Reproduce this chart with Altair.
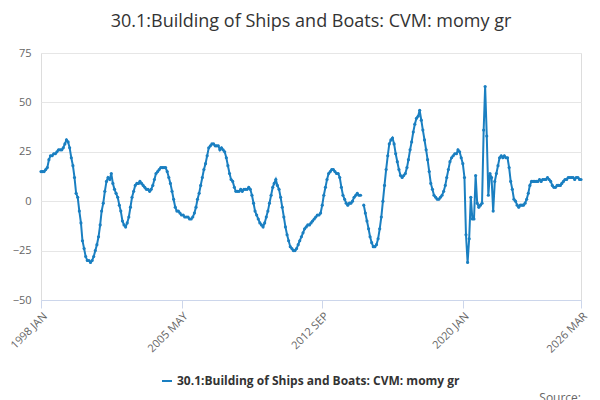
import altair as alt
import pandas as pd

SERIES = "30.1:Building of Ships and Boats: CVM: momy gr"

# monthly values from 1998 Jan
vals_1998_2000 = [15, 15, 15, 16, 17, 21, 23, 23, 24, 24, 25, 26, 26, 26, 27, 29, 31, 30, 27, 22,
                  18, 12, 4, 2, -5, -11, -20, -24, -28, -30, -30]
vals_2000_2005 = [-31, -30, -28, -25, -22, -18, -12, -5, -1, 5, 10, 12, 11, 14, 9, 6, 4, 2, -2, -5,
                  -10, -12, -13, -11, -8, -3, 2, 5, 8, 9, 9, 10, 9, 8, 7, 6, 6, 5, 6, 8,
                  11, 14, 15, 16, 17, 17, 17, 17, 15, 12, 9, 5, 1, -3, -5, -5, -6, -7, -7, -8,
                  -8, -8, -9, -9]
vals_2005_2007 = [-8, -6, -3, 1, 4, 8, 12, 16, 19, 23, 27, 28,
                  29, 29, 28, 28, 28, 26, 27, 26, 25, 22, 18, 14, 11, 10,
                  7, 5, 5, 5, 6, 5, 6, 6, 6, 7, 6]
vals_2009_2014 = [3, -1, -5, -7, -9, -11, -12, -13, -11, -8, -5, -1, 3, 7,
                  9, 11, 8, 6, 2, -3, -8, -13, -17, -20, -23, -24, -25, -25, -24, -22,
                  -20, -18, -16, -14, -13, -12, -12, -11, -10, -9, -8, -7, -7, -6, -2, 3,
                  7, 11, 14, 15, 16, 16, 15, 14, 14, 12, 7, 3, 1, -1, -2, -1, -1, 0, 2,
                  3, 4, 3, 3, None]
vals_2014_2026 = [-2, -6, -10, -14, -18, -21, -23, -23, -22, -19, -14, -8, 0, 8, 16, 23, 29, 31,
                  32, 29, 24, 20, 16, 13, 12, 13, 14, 17, 21, 26, 30, 35, 39, 42, 43, 46, 41,
                  36, 31, 26, 21, 15, 9, 6, 3, 2, 1, 1, 2, 3, 5, 8, 12, 16, 20, 22, 23, 24,
                  24, 26, 25, 22, 19, 12, -17, -31, -19, 2, -9, -9, 13, -1, -3, -2, -1, 36,
                  58, 33, 3, 14, 12, -5, 10, 14, 18, 22, 23, 22, 23, 22, 22, 17, 10, 6, 1,
                  0, -2, -3, -2, -2, -2, -1, 1, 4, 8, 10, 10, 10, 10, 10, 11, 10, 11, 11, 11,
                  12, 11, 10, 8, 7, 7, 8, 8, 8, 9, 10, 11, 11, 12, 12, 12, 12, 11, 12, 12,
                  11, 11]

values = vals_1998_2000 + vals_2000_2005 + vals_2005_2007 + vals_2009_2014 + vals_2014_2026
months = pd.date_range("1998-01-01", periods=len(values), freq="MS")
tick_dates = ["1998-01-01", "2005-05-01", "2012-09-01", "2020-01-01", "2026-03-01"]

df = pd.DataFrame({"month": months, "value": values, "series": SERIES})

blue = "#1a7fc1"
x_ax = alt.Axis(
    values=[pd.Timestamp(d).isoformat() for d in tick_dates],
    labelExpr="upper(timeFormat(datum.value, '%Y %b'))",
    labelAngle=-45, grid=False, title=None, labelColor="#666", labelFontSize=11,
    domainColor="#ccd6eb", tickColor="#ccd6eb", tickSize=8,
)
y_ax = alt.Axis(values=[-50, -25, 0, 25, 50, 75], title=None, domain=False, ticks=False,
                gridColor="#e6e6e6", labelColor="#666", labelFontSize=11, labelPadding=10)

line = (
    alt.Chart(df)
    .mark_line(point=alt.OverlayMarkDef(size=10, filled=True), strokeWidth=2)
    .encode(
        x=alt.X("month:T", axis=x_ax, scale=alt.Scale(domain=[months[0].isoformat(), months[-1].isoformat()])),
        y=alt.Y("value:Q", axis=y_ax, scale=alt.Scale(domain=[-50, 75], nice=False)),
        color=alt.Color("series:N", scale=alt.Scale(range=[blue]),
                        legend=alt.Legend(orient="none", legendX=120, legendY=322, title=None,
                                          labelFontSize=12, labelLimit=0,
                                          labelFontWeight="bold", labelColor="#333",
                                          symbolType="stroke", symbolStrokeWidth=2)),
    )
)

source = alt.Chart(pd.DataFrame({"t": ["Source:"]})).mark_text(
    align="right", fontSize=12, color="#666"
).encode(text="t:N", x=alt.value(540), y=alt.value(345))

chart = (
    alt.layer(line, source)
    .properties(
        width=540, height=247,
        padding={"left": 0, "right": 0, "top": 5, "bottom": 0},
        title=alt.TitleParams(SERIES, fontSize=18, fontWeight="normal", color="#333", offset=16),
    )
    .configure_view(stroke=None)
    .configure(font="Open Sans")
)

chart.save("out.html", embed_options={"renderer": "svg", "actions": False})
